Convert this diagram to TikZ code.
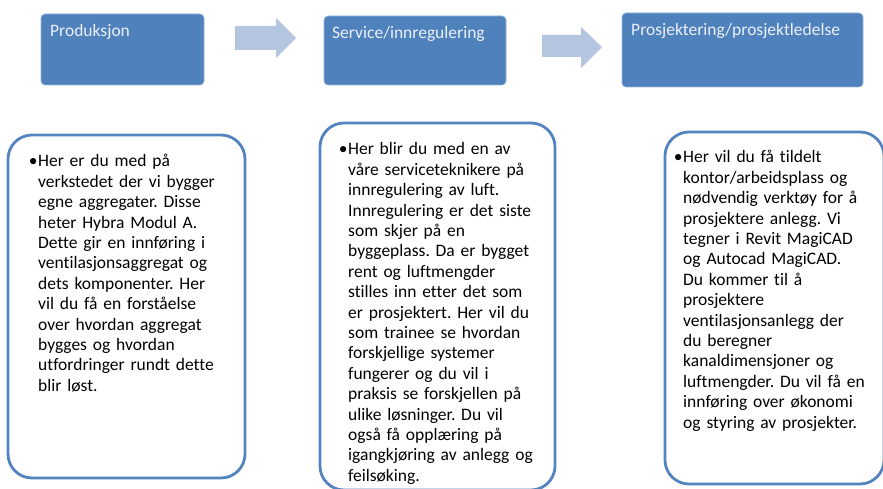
\documentclass[tikz,border=0pt]{standalone}
\usepackage{fontspec}
\setmainfont[Ligatures={NoCommon}]{Carlito}
\frenchspacing
\definecolor{hdrblue}{RGB}{79,129,189}
\definecolor{hdrline}{RGB}{150,180,215}
\definecolor{arrowblue}{RGB}{180,197,223}
\definecolor{boxline}{RGB}{84,132,192}
\definecolor{hdrtext}{RGB}{235,240,250}
\tikzset{
  hdrbox/.style={fill=hdrblue, draw=hdrline, line width=0.6pt, rounded corners=4pt},
  hdrlabel/.style={anchor=base west, inner sep=0pt, text=hdrtext, font=\fontsize{17.5}{20.4}\selectfont},
  bodybox/.style={draw=boxline, line width=2.8pt, rounded corners=24pt},
  bodytext/.style={anchor=base west, inner sep=0pt, text width=240pt, align=left, font=\fontsize{17.5}{20.4}\selectfont\frenchspacing},
  blockarrow/.style={fill=arrowblue, draw=none},
}
\newcommand{\bul}{\llap{•\hspace{0.5pt}}}
\begin{document}
\begin{tikzpicture}[x=1pt,y=-1pt]
\useasboundingbox (0,0) rectangle (883,489);
% header boxes
\path[hdrbox] (41,14) rectangle (204,85);
\path[hdrbox] (324,16) rectangle (506,85);
\path[hdrbox] (622,13) rectangle (863,87);
\node[hdrlabel] (h1) at (50,37) {Produksjon};
\node[hdrlabel] (h2) at (332,39) {Service/innregulering};
\node[hdrlabel] (h3) at (631,36) {Prosjektering/prosjektledelse};
% block arrows
\path[blockarrow] (235,26) -- (276,26) -- (276,18) -- (296,38) -- (276,58) -- (276,50) -- (235,50) -- cycle;
\path[blockarrow] (542,35) -- (581,35) -- (581,27) -- (602,47) -- (581,68) -- (581,57) -- (542,57) -- cycle;
% body boxes
\draw[bodybox] (8,135) rectangle (245,478);
\draw[bodybox] (320,123) rectangle (555,490);
\draw[bodybox] (665,132) rectangle (884,484);
% body texts
\node[bodytext] (t1) at (38,167) {\bul Her er du med på\\
verkstedet der vi bygger\\
egne aggregater. Disse\\
heter Hybra Modul A.\\
Dette gir en innføring i\\
ventilasjonsaggregat og\\
dets komponenter. Her\\
vil du få en forståelse\\
over hvordan aggregat\\
bygges og hvordan\\
utfordringer rundt dette\\
blir løst.};
\node[bodytext] (t2) at (348,155) {\bul Her blir du med en av\\
våre serviceteknikere på\\
innregulering av luft.\\
Innregulering er det siste\\
som skjer på en\\
byggeplass. Da er bygget\\
rent og luftmengder\\
stilles inn etter det som\\
er prosjektert. Her vil du\\
som trainee se hvordan\\
forskjellige systemer\\
fungerer og du vil i\\
praksis se forskjellen på\\
ulike løsninger. Du vil\\
også få opplæring på\\
igangkjøring av anlegg og\\
feilsøking.};
\node[bodytext] (t3) at (683,163) {\bul Her vil du få tildelt\\
kontor/arbeidsplass og\\
nødvendig verktøy for å\\
prosjektere anlegg. Vi\\
tegner i Revit MagiCAD\\
og Autocad MagiCAD.\\
Du kommer til å\\
prosjektere\\
ventilasjonsanlegg der\\
du beregner\\
kanaldimensjoner og\\
luftmengder. Du vil få en\\
innføring over økonomi\\
og styring av prosjekter.};
\end{tikzpicture}
\end{document}
